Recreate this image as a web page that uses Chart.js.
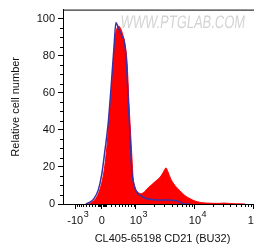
<!DOCTYPE html>
<html>
<head>
<meta charset="utf-8">
<script src="https://cdn.jsdelivr.net/npm/chart.js@4/dist/chart.umd.min.js"></script>
<style>
html, body { margin: 0; padding: 0; overflow: hidden; background: #fff; }
</style>
</head>
<body>
<canvas id="histo" width="262" height="251"></canvas>
<script>
// x values are display (biexponential) units: 3 = 10^3, 4 = 10^4, 5 = 10^5
const redX = [2.15, 2.19, 2.25, 2.32, 2.39, 2.46, 2.51, 2.56, 2.61, 2.64, 2.68, 2.71, 2.75, 2.78, 2.81, 2.85, 2.88, 2.92, 2.95, 2.98,
    3.03, 3.08, 3.14, 3.20, 3.27, 3.34, 3.41, 3.46, 3.51, 3.54, 3.59, 3.66, 3.75, 3.83, 3.92, 4.00, 4.08, 4.19, 4.29, 4.39, 4.49, 4.59, 4.69, 4.85]
const redY = [0, 0, 1, 3, 8, 18, 32, 52, 73, 88, 95, 96, 94, 91, 87, 76, 55, 32, 15, 9,
    6.5, 5.6, 6.5, 8.5, 10.5, 12.5, 14.5, 17, 19.5, 17.5, 13.5, 10, 7, 4.5, 2.8, 1.6, 0.9, 0.5, 0.4, 0.3, 0.5, 0.3, 0.1, 0]

const blueX = [2.15, 2.22, 2.29, 2.36, 2.42, 2.47, 2.53, 2.58, 2.63, 2.66, 2.69, 2.73, 2.76, 2.80, 2.83, 2.86, 2.90, 2.93, 2.97,
    3.02, 3.08, 3.17, 3.27, 3.41, 3.58, 3.69, 3.76, 3.83, 3.92]
const blueY = [0, 1, 3, 7.5, 16, 28, 44, 64, 86, 98, 96, 93, 91, 88, 80, 62, 35, 17, 10,
    6, 4.5, 3, 2.4, 2.2, 2.1, 1.8, 0.8, 0, 0]

// axis ticks
const xTickValues = [1.97, 2.42, 3, 4, 5]
const xTickBase = ['-10', '0', '10', '10', '10']
const xTickExp = ['3', '', '3', '4', '5']
const yTickValues = [0, 20, 40, 60, 80, 100]
const yMinorValues = [5, 10, 15, 25, 30, 35, 45, 50, 55, 65, 70, 75, 85, 90, 95]

const FONT = "'Liberation Sans', Arial, sans-serif"

// position of a raw value on the display axis (only used for the small minor ticks)
function toDisplay(v) {
    if (v >= 1000) return Math.log10(v)
    const k = Math.asinh(Math.abs(v) / 565) / Math.asinh(1000 / 565)
    return v >= 0 ? 2.42 + 0.58 * k : 2.42 - 0.45 * k
}
const xMinorValues = []
for (let v = 100; v < 1000; v += 100) { xMinorValues.push(toDisplay(v)); xMinorValues.push(toDisplay(-v)) }
for (let v = 20; v < 100; v += 20) { xMinorValues.push(toDisplay(v)); xMinorValues.push(toDisplay(-v)) }
xMinorValues.push(toDisplay(-2000))
for (let d = 3; d <= 5; d++) {
    for (let k = 2; k <= 9; k++) xMinorValues.push(d + Math.log10(k))
}

// draws the watermark, the top frame line, minor ticks and the x labels with exponents
const extras = {
    id: 'extras',
    beforeDatasetsDraw(chart) {
        const ctx = chart.ctx
        ctx.save()
        ctx.translate(120, 28)
        ctx.transform(0.72, 0, -0.12, 1, 0, 0)
        ctx.font = '18px ' + FONT
        ctx.fillStyle = 'rgba(175,175,175,0.55)'
        ctx.textBaseline = 'alphabetic'
        ctx.fillText('WWW.PTGLAB.COM', 0, 0)
        ctx.restore()
    },
    afterDraw(chart) {
        const {ctx, chartArea, scales} = chart
        const x = scales.x, y = scales.y
        ctx.save()
        ctx.strokeStyle = '#000'
        ctx.lineWidth = 1
        ctx.beginPath()
        ctx.moveTo(chartArea.left, chartArea.top + 0.5)
        ctx.lineTo(chartArea.right, chartArea.top + 0.5)
        // minor ticks on y
        yMinorValues.forEach(v => {
            const py = Math.round(y.getPixelForValue(v)) + 0.5
            ctx.moveTo(chartArea.left - 3, py)
            ctx.lineTo(chartArea.left, py)
        })
        // minor ticks on x
        xMinorValues.forEach(v => {
            if (v < x.min || v > x.max) return
            const px = Math.round(x.getPixelForValue(v)) + 0.5
            ctx.moveTo(px, chartArea.bottom)
            ctx.lineTo(px, chartArea.bottom + 3)
        })
        ctx.stroke()

        // x tick labels, base centred on the tick, exponent raised to the right
        ctx.fillStyle = '#111'
        ctx.textBaseline = 'alphabetic'
        xTickValues.forEach((v, i) => {
            const px = x.getPixelForValue(v)
            ctx.font = '11px ' + FONT
            ctx.textAlign = 'center'
            ctx.fillText(xTickBase[i], px, 224)
            if (xTickExp[i]) {
                const w = ctx.measureText(xTickBase[i]).width
                ctx.font = '9px ' + FONT
                ctx.textAlign = 'left'
                ctx.fillText(xTickExp[i], px + w / 2 + 0.5, 217)
            }
        })
        ctx.restore()
    }
}

new Chart(document.getElementById('histo').getContext('2d'), {
    type: 'line',
    data: {
        datasets: [
            {
                label: 'control',
                data: blueX.map((v, i) => ({x: v, y: blueY[i]})),
                borderColor: '#3b30a6',
                borderWidth: 1.5,
                fill: false,
                pointRadius: 0,
                cubicInterpolationMode: 'monotone',
                order: 1
            },
            {
                label: 'CD21',
                data: redX.map((v, i) => ({x: v, y: redY[i]})),
                borderColor: '#ff0000',
                backgroundColor: '#ff0000',
                borderWidth: 1,
                fill: 'origin',
                pointRadius: 0,
                cubicInterpolationMode: 'monotone',
                order: 2
            }
        ]
    },
    options: {
        responsive: false,
        animation: false,
        layout: { padding: { top: 7, left: 0, right: 0, bottom: 0 } },
        plugins: {
            legend: { display: false },
            tooltip: { enabled: false }
        },
        scales: {
            x: {
                type: 'linear',
                min: 1.763,
                max: 5.136,
                afterBuildTicks: s => { s.ticks = xTickValues.map(v => ({value: v})) },
                afterFit: s => { s.height = 47 },
                ticks: { display: false },
                grid: { display: true, drawOnChartArea: false, drawTicks: true, tickLength: 5, color: '#000' },
                border: { display: true, color: '#000' },
                title: {
                    display: true,
                    text: 'CL405-65198 CD21 (BU32)',
                    color: '#111',
                    font: { size: 11, family: FONT },
                    padding: { top: 0, bottom: 5 }
                }
            },
            y: {
                min: 0,
                max: 105,
                afterBuildTicks: s => { s.ticks = yTickValues.map(v => ({value: v})) },
                afterFit: s => { s.width = 63 },
                ticks: { color: '#111', padding: 3, font: { size: 11, family: FONT } },
                grid: { display: true, drawOnChartArea: false, drawTicks: true, tickLength: 5, color: '#000' },
                border: { display: true, color: '#000' },
                title: {
                    display: true,
                    text: 'Relative cell number',
                    color: '#111',
                    font: { size: 11, family: FONT },
                    padding: { top: 9, bottom: 0 }
                }
            }
        }
    },
    plugins: [extras]
})
</script>
</body>
</html>
